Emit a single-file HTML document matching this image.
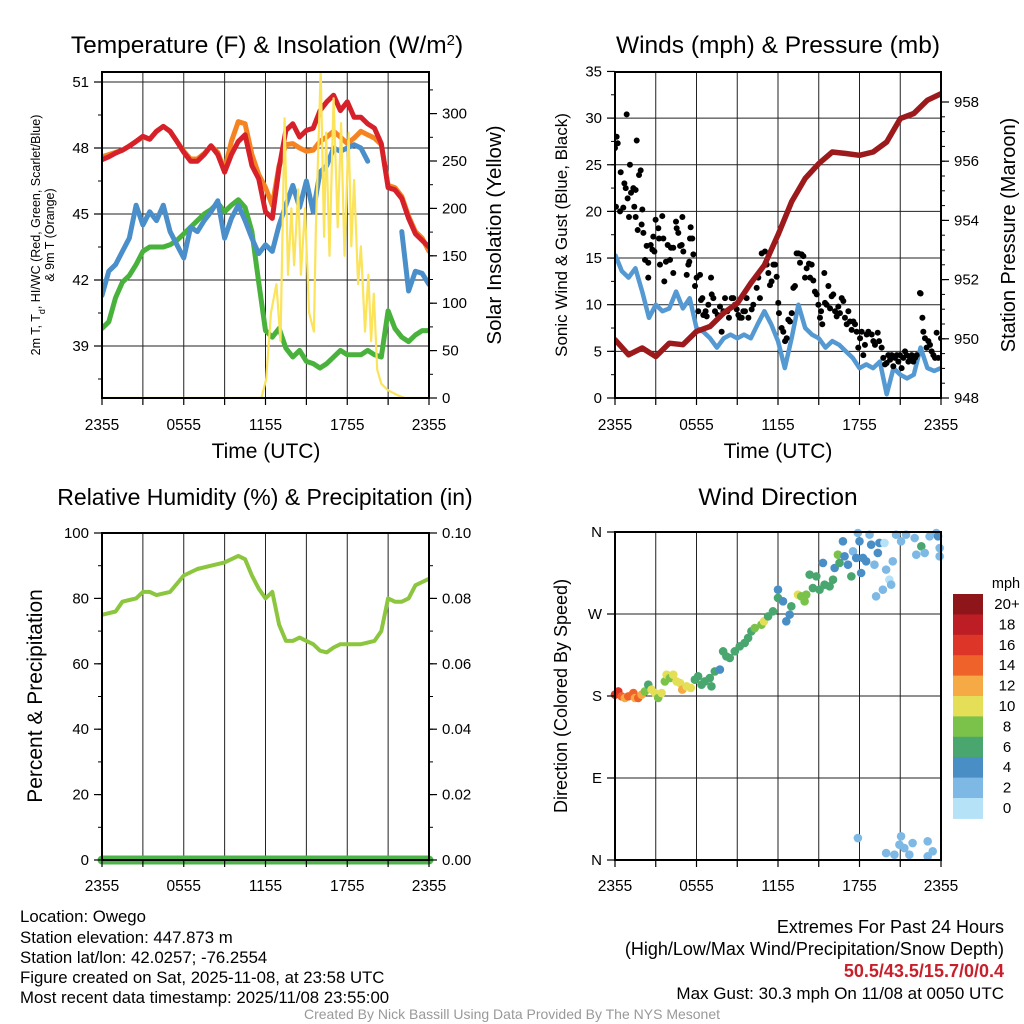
<!DOCTYPE html>
<html><head><meta charset="utf-8"><style>
html,body{margin:0;padding:0;background:#fff;}
svg{display:block;font-family:"Liberation Sans",sans-serif;}
</style></head><body>
<svg id="fig" width="1024" height="1024" viewBox="0 0 1024 1024">
<rect width="1024" height="1024" fill="#fff"/>
<text x="267" y="53" font-size="24.5" text-anchor="middle">Temperature (F) &amp; Insolation (W/m<tspan baseline-shift="super" font-size="15">2</tspan>)</text>
<text x="778" y="53" font-size="24.5" text-anchor="middle">Winds (mph) &amp; Pressure (mb)</text>
<text x="265" y="505" font-size="23" text-anchor="middle">Relative Humidity (%) &amp; Precipitation (in)</text>
<text x="778" y="505" font-size="24.5" text-anchor="middle">Wind Direction</text>
<text x="266" y="458" font-size="21" text-anchor="middle">Time (UTC)</text>
<text x="778" y="458" font-size="21" text-anchor="middle">Time (UTC)</text>
<text transform="translate(40,235) rotate(-90)" font-size="12.5" text-anchor="middle"><tspan x="0" dy="0">2m T, T<tspan baseline-shift="sub" font-size="9">d</tspan>, HI/WC (Red, Green, Scarlet/Blue)</tspan><tspan x="0" dy="14">&amp; 9m T (Orange)</tspan></text>
<text transform="translate(501,235) rotate(-90)" font-size="20.5" text-anchor="middle">Solar Insolation (Yellow)</text>
<text transform="translate(567,235) rotate(-90)" font-size="17" text-anchor="middle">Sonic Wind &amp; Gust (Blue, Black)</text>
<text transform="translate(1015,235) rotate(-90)" font-size="20" text-anchor="middle">Station Pressure (Maroon)</text>
<text transform="translate(42,696) rotate(-90)" font-size="21" text-anchor="middle">Percent &amp; Precipitation</text>
<text transform="translate(567,696) rotate(-90)" font-size="18" text-anchor="middle">Direction (Colored By Speed)</text>
<g font-size="16.8">
<text x="20" y="922">Location: Owego</text>
<text x="20" y="943">Station elevation: 447.873 m</text>
<text x="20" y="963">Station lat/lon: 42.0257; -76.2554</text>
<text x="20" y="983">Figure created on Sat, 2025-11-08, at 23:58 UTC</text>
<text x="20" y="1003">Most recent data timestamp: 2025/11/08 23:55:00</text>
</g>
<g text-anchor="end">
<text x="1004" y="933" font-size="18">Extremes For Past 24 Hours</text>
<text x="1004" y="955" font-size="18">(High/Low/Max Wind/Precipitation/Snow Depth)</text>
<text x="1004" y="977" font-size="18" fill="#c8202a" font-weight="bold">50.5/43.5/15.7/0/0.4</text>
<text x="1004" y="999" font-size="17">Max Gust: 30.3 mph On 11/08 at 0050 UTC</text>
</g>
<text x="512" y="1019" font-size="14" fill="#999" text-anchor="middle">Created By Nick Bassill Using Data Provided By The NYS Mesonet</text>
<g id="layer"></g>
</svg>
<script>
const xTickLabels = ["2355","0555","1155","1755","2355"];
const halfHours = [0,0.5,1,1.5,2,2.5,3,3.5,4,4.5,5,5.5,6,6.5,7,7.5,8,8.5,9,9.5,10,10.5,11,11.5,12,12.5,13,13.5,14,14.5,15,15.5,16,16.5,17,17.5,18,18.5,19,19.5,20,20.5,21,21.5,22,22.5,23,23.5,24];
const tempRed = [47.47,47.6,47.77,47.9,48.08,48.3,48.53,48.4,48.76,48.98,48.76,48.3,47.8,47.4,47.4,47.7,48.1,47.7,46.9,47.7,48.3,48.6,47.2,46.6,45.1,44.8,47.1,48.8,49.1,48.5,48.8,48.9,49.7,50.1,50.4,49.7,50.1,49.4,49.4,49.1,48.9,48.2,46.2,46.1,45.7,44.8,44.1,43.8,43.5];
const temp9m = [47.6,47.7,47.8,47.9,48.1,48.3,48.5,48.4,48.76,48.98,48.76,48.3,47.85,47.5,47.5,47.75,48.1,47.8,47.0,48.3,49.2,49.1,47.7,46.8,46.2,45.4,47.2,48.15,48.2,48.0,47.85,47.9,48.3,48.5,48.76,48.5,48.2,48.45,48.76,48.6,48.45,48.15,46.3,46.2,45.8,44.9,44.2,43.9,43.3];
const tempBlue = [41.3,42.4,42.7,43.3,43.9,45.4,44.5,45.1,44.7,45.4,44.2,43.6,43.0,44.4,44.2,44.7,45.1,45.6,43.9,44.8,45.4,44.7,43.9,43.2,43.6,43.3,44.5,45.4,46.3,45.3,46.5,45.1,46.9,47.2,48.0,47.85,48.0,48.15,48.0,47.4,null,null,null,null,44.2,41.5,42.4,42.3,41.8];
const tempGreen = [39.8,40.1,41.2,41.9,42.2,42.7,43.3,43.5,43.5,43.5,43.6,43.8,44.1,44.4,44.7,45.0,45.2,45.5,45.1,45.4,45.65,45.3,44.2,41.9,39.7,39.4,39.8,38.9,38.5,38.8,38.3,38.2,38.0,38.2,38.5,38.8,38.6,38.6,38.6,38.8,38.6,38.5,40.6,39.8,39.4,39.2,39.5,39.7,39.7];
const solarT = [0,11.7,12.05,12.4,12.8,13.1,13.4,13.65,13.9,14.1,14.4,14.6,14.9,15.2,15.55,15.7,16.05,16.3,16.45,16.7,17.0,17.3,17.55,17.8,18.1,18.3,18.5,18.8,19.0,19.3,19.55,19.75,19.95,20.2,20.5,21,21.7,22.2,24];
const solarV = [0,0,20,90,120,60,295,130,200,140,220,130,200,90,70,180,345,170,280,150,316,180,290,150,280,160,230,120,160,70,130,60,110,30,15,8,3,0,0];
const tempTicks = [39,42,45,48,51];
const solarTicks = [0,50,100,150,200,250,300];
const hours = [0,1,2,3,4,5,6,7,8,9,10,11,12,13,14,15,16,17,18,19,20,21,22,23,24];
const pressure = [949.97,949.46,949.69,949.40,949.85,949.80,950.25,950.42,950.87,951.20,951.88,952.49,953.51,954.63,955.42,955.92,956.31,956.26,956.20,956.31,956.65,957.44,957.61,958.06,958.28];
const windSpeed = [15.4,13.6,12.9,13.9,11.4,8.6,10,9.3,9.6,11.4,9.6,10.7,7.5,7.1,6.4,5.4,6.4,6.8,6.4,6.8,6.4,7.9,9.3,7.9,6.1,3.2,6.4,10,7.5,6.8,6.4,5.4,6.1,5.7,5.0,4.3,3.2,3.6,3.2,3.9,0.4,3.2,2.5,2.1,2.5,5.4,3.2,2.9,3.2];
const gustT = [0.0,0.12,0.2,0.86,0.07,0.37,0.61,0.42,0.69,0.79,0.93,1.18,1.35,1.52,1.1,1.6,1.77,1.89,1.03,1.52,1.42,2.01,1.67,1.96,2.09,2.21,2.33,2.45,2.45,2.63,2.75,2.9,2.82,2.99,3.19,3.24,3.31,3.48,3.63,3.56,3.75,3.88,4.05,4.12,4.29,4.29,4.49,4.54,4.66,4.79,4.91,4.96,5.03,5.28,5.4,5.47,5.57,5.52,5.69,5.77,5.89,6.01,6.26,6.33,6.43,6.13,6.5,6.67,6.75,6.87,7.07,7.12,7.24,7.36,7.56,7.73,7.85,7.98,8.1,8.27,8.39,8.59,8.71,8.83,8.96,9.08,9.2,9.33,9.45,9.57,9.69,9.82,10.06,10.18,10.43,10.55,10.67,10.8,11.04,11.17,11.29,11.41,11.53,11.66,11.78,11.9,12.02,12.07,12.27,12.39,12.52,12.64,12.76,12.88,13.01,13.13,13.25,13.37,13.5,13.62,13.74,13.87,13.99,14.11,14.28,14.36,14.48,14.6,14.72,14.85,14.97,15.09,15.17,15.26,15.41,15.46,15.58,15.71,15.83,15.95,16.07,16.2,16.32,16.44,16.56,16.69,16.81,16.93,17.06,17.18,17.3,17.42,17.55,17.67,17.79,17.91,18.04,18.16,18.28,18.4,18.53,18.65,18.9,19.02,19.14,19.34,19.44,19.63,19.75,19.88,20.0,20.12,20.25,20.37,20.49,20.61,20.74,20.86,20.98,21.1,21.23,21.35,21.47,21.6,21.72,21.84,21.96,22.09,22.21,22.45,22.5,22.63,22.7,22.82,22.94,23.07,23.19,23.31,23.44,23.56,23.68,23.8,24.0];
const gustV = [26.8,28.0,27.3,30.4,20.5,20.0,20.4,24.2,23.0,22.5,21.4,22.0,22.5,22.3,25.0,27.6,23.9,24.4,19.4,19.4,20.5,20.2,18.0,18.6,17.7,14.8,16.3,14.5,12.9,16.4,15.9,15.7,17.3,19.1,18.2,17.1,14.3,19.5,12.5,17.1,14.6,16.4,14.8,16.1,16.1,13.4,18.9,18.2,17.7,16.3,16.4,19.4,15.7,13.2,14.3,14.6,18.3,17.1,17.1,15.4,12.0,12.9,13.2,10.5,10.7,9.3,8.9,9.3,8.75,10.0,12.9,11.1,10.7,9.3,8.9,9.8,7.1,9.3,10.7,9.3,8.6,10.7,10.7,10.0,9.5,8.9,8.6,8.6,9.3,9.3,10.7,8.6,9.5,10.0,11.8,12.9,10.7,15.5,15.7,14.3,13.4,12.1,12.5,14.3,14.3,13.0,10.2,9.1,7.5,7.1,6.1,6.4,8.4,8.2,9.1,11.8,12.0,15.5,15.5,14.5,15.4,15.2,12.9,13.9,14.4,12.9,14.3,12.6,11.4,11.1,10.0,8.6,9.3,7.9,13.4,10.2,10.0,12.0,9.6,10.9,11.1,9.3,8.75,9.8,9.1,10.7,10.4,8.6,7.9,9.3,8.2,7.3,8.2,7.9,7.1,5.4,6.4,7.1,4.6,5.7,6.8,7.1,6.8,6.1,5.7,7.0,6.1,5.4,4.3,3.6,3.75,4.6,4.1,4.6,3.4,4.3,4.6,3.9,4.6,3.2,4.3,5.0,4.6,3.9,4.3,4.6,3.9,4.3,4.6,11.25,11.2,8.6,7.1,6.4,5.4,6.1,5.7,5.0,4.6,4.3,7.0,4.3,6.4];
const windTicks = [0,5,10,15,20,25,30,35];
const pressTicks = [948,950,952,954,956,958];
const rhT = [0,1,1.5,2,2.5,3,3.5,4,5,6,7,8,9,9.5,10,10.5,11,11.5,12,12.5,13,13.5,14,14.5,15,15.5,16,16.5,17,17.5,18,19,20,20.5,21,21.5,22,22.5,23,23.5,24];
const rhV = [75,76,79,79.5,80,82,82,81,82,87,89,90,91,92,93,92,87,83,80,82,72,67,67,68,67,66,64,63.5,65,66,66,66,67,70,80,79,79,80,84,85,86];
const precipV = [0,0];
const rhTicks = [0,20,40,60,80,100];
const precipTicks = ["0.00","0.02","0.04","0.06","0.08","0.10"];
const dirT = [0,0.24,0.49,0.73,0.98,1.35,1.47,1.71,1.96,2.2,2.45,2.69,2.94,3.18,3.43,3.67,3.8,4.04,4.29,4.53,4.78,4.95,5.27,5.58,5.88,6.12,6.37,6.61,6.98,7.1,7.35,7.72,7.96,8.2,8.45,8.82,9.18,9.55,9.8,10.04,10.29,10.78,10.97,11.27,11.63,12,12,12.37,12.61,12.86,12.98,13.47,13.71,13.96,14.08,14.33,14.57,14.82,15.06,15.31,15.43,15.8,16.05,16.17,16.41,16.53,16.78,16.9,17.15,17.4,17.52,17.76,17.88,18,18.12,18.25,18.49,18.74,18.86,19.1,19.22,19.35,19.47,19.72,19.84,19.96,20.2,20.33,20.45,20.69,21.06,21.43,22.06,22.18,22.55,22.8,23.16,23.65,23.78,23.9,23.9,17.88,19.96,20.57,21.06,20.94,21.3,21.67,21.91,23.02,23.39,23.02];
const dirDeg = [181.4,185,179.6,177.8,179.6,183.3,177.8,177.8,181.4,185,192.4,187,183.3,177.8,183.3,196,203.4,199.7,203.4,196,194.3,187,190.6,188.8,197.9,201.6,192.4,196,199.7,190.6,207,209,229,223.5,221.7,229,234.5,238.2,243.7,251,254.6,258.3,262,267.4,272.9,287.6,296.7,283.9,262,269.3,278.4,291.2,289.4,283.9,291.2,313.2,298.5,311.3,296.7,326,302.2,300.4,307.7,320.5,335.1,326,349.8,333.3,324.1,311.3,338.8,331.5,358.9,349.8,315,331.5,327.8,357.1,346.1,324.1,289.4,337,348,296.7,348,318.7,307.7,302.2,327.8,357.1,349.8,357.1,353.4,335.1,344.3,337,355.2,358.9,355.2,342.4,333.3,24.1,7.6,5.8,26,16.8,13.1,5.8,18.6,20.5,9.5,4];
const dirSpd = [17,16,14,12,15,14,12,15,12,9,6,10,10,8,10,8,10,8,10,10,11,12,10,10,7,6,6,6,6,7,6,4,6,6,6,6,6,6,6,7,8,8,10,7,6,6,4,4,4,4,6,10,8,8,8,6,6,6,6,4,6,6,6,4,8,6,4,4,4,6,2,4,2,4,4,4,4,2,4,2,2,4,4,2,0,2,0,2,2,2,2,2,2,2,6,2,2,2,4,2,2,2,2,2,2,2,2,2,2,2,2,2,2,2,2,2];
const dirLabels = ["N","E","S","W","N"];
const dirTicks = [0,90,180,270,360];
const speedBins = ["0","2","4","6","8","10","12","14","16","18","20+"];
const speedColors = ["#b5e2f7","#7db9e4","#4a8ec6","#49a66f","#7bc24a","#e5df58","#f6aa45","#ef6229","#dd3629","#bd1d24","#8e1519"];

const NS="http://www.w3.org/2000/svg";
const layer=document.getElementById('layer');
function mk(tag,attrs,parent){const e=document.createElementNS(NS,tag);for(const k in attrs)e.setAttribute(k,attrs[k]);(parent||layer).appendChild(e);return e;}
function pathFrom(xs,ys,fx,fy){let d="",pen=false;for(let i=0;i<xs.length;i++){if(ys[i]===null){pen=false;continue;}d+=(pen?"L":"M")+fx(xs[i]).toFixed(1)+","+fy(ys[i]).toFixed(1);pen=true;}return d;}

function panel(name,x0,x1,y0,y1){
  const g=mk('g',{});
  
  
  const clip=mk('clipPath',{id:name+'-clip'},g);
  mk('rect',{x:x0,y:y0,width:x1-x0,height:y1-y0},clip);
  return {g,x0,x1,y0,y1,fx:t=>x0+t/24*(x1-x0)};
}
function frame(p,hgrid){
  for(let h=3;h<24;h+=3){const l=mk('line',{x1:p.fx(h),x2:p.fx(h),y1:p.y0,y2:p.y1,stroke:'#222','stroke-width':1},p.g);
    
    }
  hgrid.forEach(y=>{const l=mk('line',{x1:p.x0,x2:p.x1,y1:y,y2:y,stroke:'#222','stroke-width':1},p.g);
    
    });
}
function border(p){const r=mk('rect',{x:p.x0,y:p.y0,width:p.x1-p.x0,height:p.y1-p.y0,fill:'none',stroke:'#000','stroke-width':2},p.g);
  
  }
function xAxis(p,labY){
  for(let h=0;h<=24;h+=3){mk('line',{x1:p.fx(h),x2:p.fx(h),y1:p.y1,y2:p.y1+7,stroke:'#000','stroke-width':1.2},p.g);}
  xTickLabels.forEach((s,i)=>{const t=mk('text',{x:p.fx(i*6),y:labY,'font-size':15.5,'text-anchor':'middle'},p.g);t.textContent=s;
    
    });
}
function yAxis(p,side,ticks,fy,labels,minor){
  const xa=side==='l'?p.x0:p.x1, dir=side==='l'?-1:1;
  minor.forEach(v=>{const y=fy(v);if(y<p.y0-0.5||y>p.y1+0.5)return;mk('line',{x1:xa,x2:xa+dir*4,y1:y,y2:y,stroke:'#000','stroke-width':1},p.g);});
  ticks.forEach((v,i)=>{const y=fy(v);mk('line',{x1:xa,x2:xa+dir*8,y1:y,y2:y,stroke:'#000','stroke-width':1.2},p.g);
    const t=mk('text',{x:xa+dir*13,y:y+5,'font-size':15,'text-anchor':side==='l'?'end':'start'},p.g);t.textContent=labels[i];
    
    });
}
function range(a,b,s){const r=[];for(let v=a;v<=b+1e-9;v+=s)r.push(+v.toFixed(3));return r;}

/* Panel 1 */
{
const p=panel('temp-panel',102,429,72,398);
const fyT=v=>148+(48-v)*22, fyS=v=>398-v*0.948;
frame(p,tempTicks.map(fyT));
const cg=mk('g',{'clip-path':'url(#temp-panel-clip)'},p.g);
[[tempGreen,'#48b23d','dewpoint-line'],[tempBlue,'#4a8fc9','heat-index-line'],[temp9m,'#f58322','temp-9m-line'],[tempRed,'#d7212a','temp-2m-line']].forEach(s=>{
  const e=mk('path',{d:pathFrom(halfHours,s[0],p.fx,fyT),fill:'none',stroke:s[1],'stroke-width':5,'stroke-linejoin':'round','stroke-linecap':'round'},cg);
  
  
});
const sl=mk('path',{d:pathFrom(solarT,solarV,p.fx,fyS),fill:'none',stroke:'#fbe35a','stroke-width':2.2,'stroke-linejoin':'round'},cg);


border(p);xAxis(p,430);
yAxis(p,'l',tempTicks,fyT,tempTicks.map(String),range(37.5,51,1.5));
yAxis(p,'r',solarTicks,fyS,solarTicks.map(String),range(0,340,25));
}
/* Panel 2 */
{
const p=panel('wind-panel',615,941,72,398);
const fyW=v=>398-v*9.33, fyP=v=>398-(v-948)*29.6;
frame(p,[5,10,15,20,25,30].map(fyW));
const cg=mk('g',{'clip-path':'url(#wind-panel-clip)'},p.g);
const wl=mk('path',{d:pathFrom(halfHours,windSpeed,p.fx,fyW),fill:'none',stroke:'#5599d3','stroke-width':4.5,'stroke-linejoin':'round'},cg);


const dg=mk('g',{},cg);


gustT.forEach((t,i)=>{const c=mk('circle',{cx:p.fx(t),cy:fyW(gustV[i]),r:3,fill:'#000'},dg);
  
  });
const pl=mk('path',{d:pathFrom(hours,pressure,p.fx,fyP),fill:'none',stroke:'#9c1a1c','stroke-width':5.5,'stroke-linejoin':'round','stroke-linecap':'round'},cg);


border(p);xAxis(p,430);
yAxis(p,'l',windTicks,fyW,windTicks.map(String),range(0,35,2.5));
yAxis(p,'r',pressTicks,fyP,pressTicks.map(String),range(948,958,0.5));
}
/* Panel 3 */
{
const p=panel('rh-panel',102,429,533,860);
const fyR=v=>860-v*3.27;
frame(p,[]);
const rl=mk('path',{d:pathFrom(rhT,rhV,p.fx,fyR),fill:'none',stroke:'#8cc63f','stroke-width':4,'stroke-linejoin':'round'},p.g);


const pr=mk('path',{d:pathFrom([0,24],precipV,p.fx,v=>860-v*3270),fill:'none',stroke:'#4cb34a','stroke-width':9,'stroke-linecap':'round'},p.g);


border(p);xAxis(p,891);
yAxis(p,'l',rhTicks,fyR,rhTicks.map(String),range(0,100,10));
yAxis(p,'r',rhTicks,fyR,precipTicks,range(0,100,10));
}
/* Panel 4 */
{
const p=panel('direction-panel',615,941,532,860);
const fyD=v=>860-v*(328/360);
frame(p,[90,180,270].map(fyD));
const dg=mk('g',{},p.g);


dirT.forEach((t,i)=>{const s=dirSpd[i]===undefined?2:dirSpd[i];const bin=Math.min(10,Math.max(0,Math.floor(s/2)));
  const c=mk('circle',{cx:p.fx(t),cy:fyD(dirDeg[i]),r:4.3,fill:speedColors[bin]},dg);
  
  });
border(p);xAxis(p,891);
yAxis(p,'l',dirTicks,fyD,dirLabels,[]);
const cb=mk('g',{});


const top=594,bh=20.4;
const ttl=mk('text',{x:1006,y:588,'font-size':14.5,'text-anchor':'middle'},cb);ttl.textContent='mph';


speedBins.forEach((s,i)=>{const k=10-i;
  const r=mk('rect',{x:953,y:top+i*bh,width:30,height:bh+0.5,fill:speedColors[k]},cb);
  
  
  const t=mk('text',{x:1007,y:top+i*bh+15,'font-size':15,'text-anchor':'middle'},cb);t.textContent=speedBins[k];
  
  });
}
</script>
</body></html>
